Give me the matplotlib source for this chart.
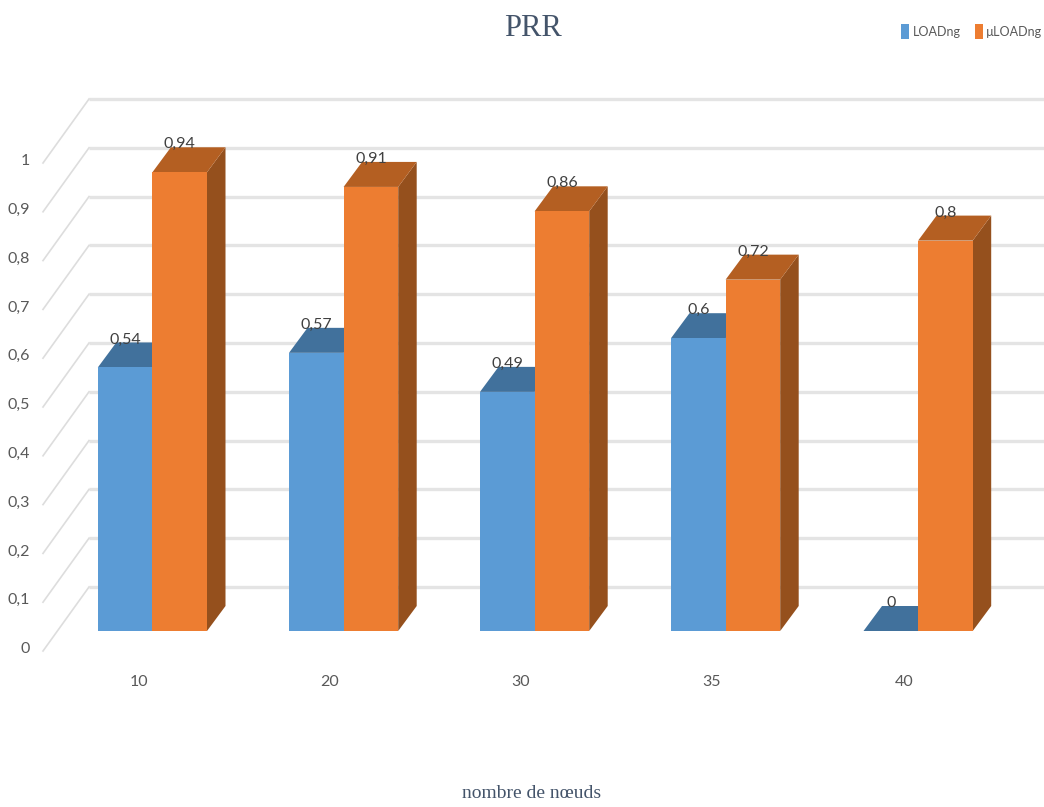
import matplotlib
matplotlib.use("Agg")
import matplotlib.pyplot as plt
from matplotlib.patches import Polygon, Rectangle

# Packet reception ratio per network size
node_counts = ["10", "20", "30", "35", "40"]
loadng = [0.54, 0.57, 0.49, 0.6, 0]
mu_loadng = [0.94, 0.91, 0.86, 0.72, 0.8]
value_ticks = [0, 0.1, 0.2, 0.3, 0.4, 0.5, 0.6, 0.7, 0.8, 0.9, 1]
series_names = ["LOADng", "µLOADng"]
title = "PRR"
x_title = "nombre de nœuds"

W, H = 1044, 807
fig = plt.figure(figsize=(W / 100, H / 100), dpi=100, facecolor="white")
ax = fig.add_axes([0, 0, 1, 1])
ax.set_xlim(0, W)
ax.set_ylim(H, 0)
ax.axis("off")

SANS = ["Lato", "DejaVu Sans"]
SERIF = ["Liberation Serif", "DejaVu Serif"]
TEXT = "#595959"
BLUE, BLUE_DARK = "#5b9bd5", "#41719c"
ORANGE, ORANGE_TOP, ORANGE_SIDE = "#ed7d31", "#b45f22", "#95501d"

Y0 = 631.0        # front baseline of the bars
UNIT = 488.0      # pixels per 1.0 of PRR
BAR_DX, BAR_DY = 18.5, -25
BACK_OFFSET = -44  # back wall relative to the bar fronts
WALL_LEFT, WALL_BACK = 43, 89
WALL_DY = 64


def vy(v):
    return Y0 - v * UNIT


def fmt(v):
    return f"{v:g}".replace(".", ",")


# Walls: gridlines run along the back and step down the left side
for v in value_ticks:
    back = vy(v) + BACK_OFFSET
    ax.plot([WALL_BACK, W], [back, back], color="#e4e4e4", lw=2.4, zorder=1, solid_capstyle="butt")
    ax.plot([WALL_LEFT, WALL_BACK], [back + WALL_DY, back], color="#dddddd", lw=1.2, zorder=1)


def bar3d(x, width, value, front_c, top_c, side_c):
    top = vy(value)
    ax.add_patch(Polygon([(x + width, top), (x + width + BAR_DX, top + BAR_DY),
                          (x + width + BAR_DX, Y0 + BAR_DY), (x + width, Y0)],
                         fc=side_c, ec="none", zorder=3))
    ax.add_patch(Polygon([(x, top), (x + width, top),
                          (x + width + BAR_DX, top + BAR_DY), (x + BAR_DX, top + BAR_DY)],
                         fc=top_c, ec="none", zorder=3))
    if value > 0:
        ax.add_patch(Rectangle((x, top), width, Y0 - top, fc=front_c, ec="none", zorder=4))


GROUP_X = [97.8, 289, 480, 671, 863.5]
BAR_W = 54.6
LABEL_SIZE = 11.5
for gx, label, a, b in zip(GROUP_X, node_counts, loadng, mu_loadng):
    bar3d(gx, BAR_W, a, BLUE, BLUE_DARK, BLUE_DARK)
    bar3d(gx + BAR_W, BAR_W, b, ORANGE, ORANGE_TOP, ORANGE_SIDE)
    ax.text(gx + 27.5, vy(a) - 28, fmt(a), ha="center", va="center",
            fontsize=LABEL_SIZE, family=SANS, color="#404040", zorder=6)
    ax.text(gx + BAR_W + 27.5, vy(b) - 28, fmt(b), ha="center", va="center",
            fontsize=LABEL_SIZE, family=SANS, color="#404040", zorder=6)
    ax.text(gx + 41, 682, label, ha="center", va="center", fontsize=LABEL_SIZE, family=SANS, color=TEXT)

# Value axis labels
for v in value_ticks:
    ax.text(30, vy(v) + 18, fmt(v), ha="right", va="center",
            fontsize=LABEL_SIZE, family=SANS, color=TEXT)

ax.text(533, 29, title, ha="center", va="center", fontsize=22, family=SERIF, color="#44546a")
ax.text(532, 794, x_title, ha="center", va="center", fontsize=14, family=SERIF, color="#44546a")

# Legend
for x, c, name, tx in [(901, BLUE, series_names[0], 913), (975, ORANGE, series_names[1], 986)]:
    ax.add_patch(Rectangle((x, 24), 8.3, 15, fc=c, ec="none"))
    ax.text(tx, 32, name, ha="left", va="center", fontsize=9, family=SANS, color=TEXT)

fig.savefig("out.png", dpi=100, facecolor="white")
